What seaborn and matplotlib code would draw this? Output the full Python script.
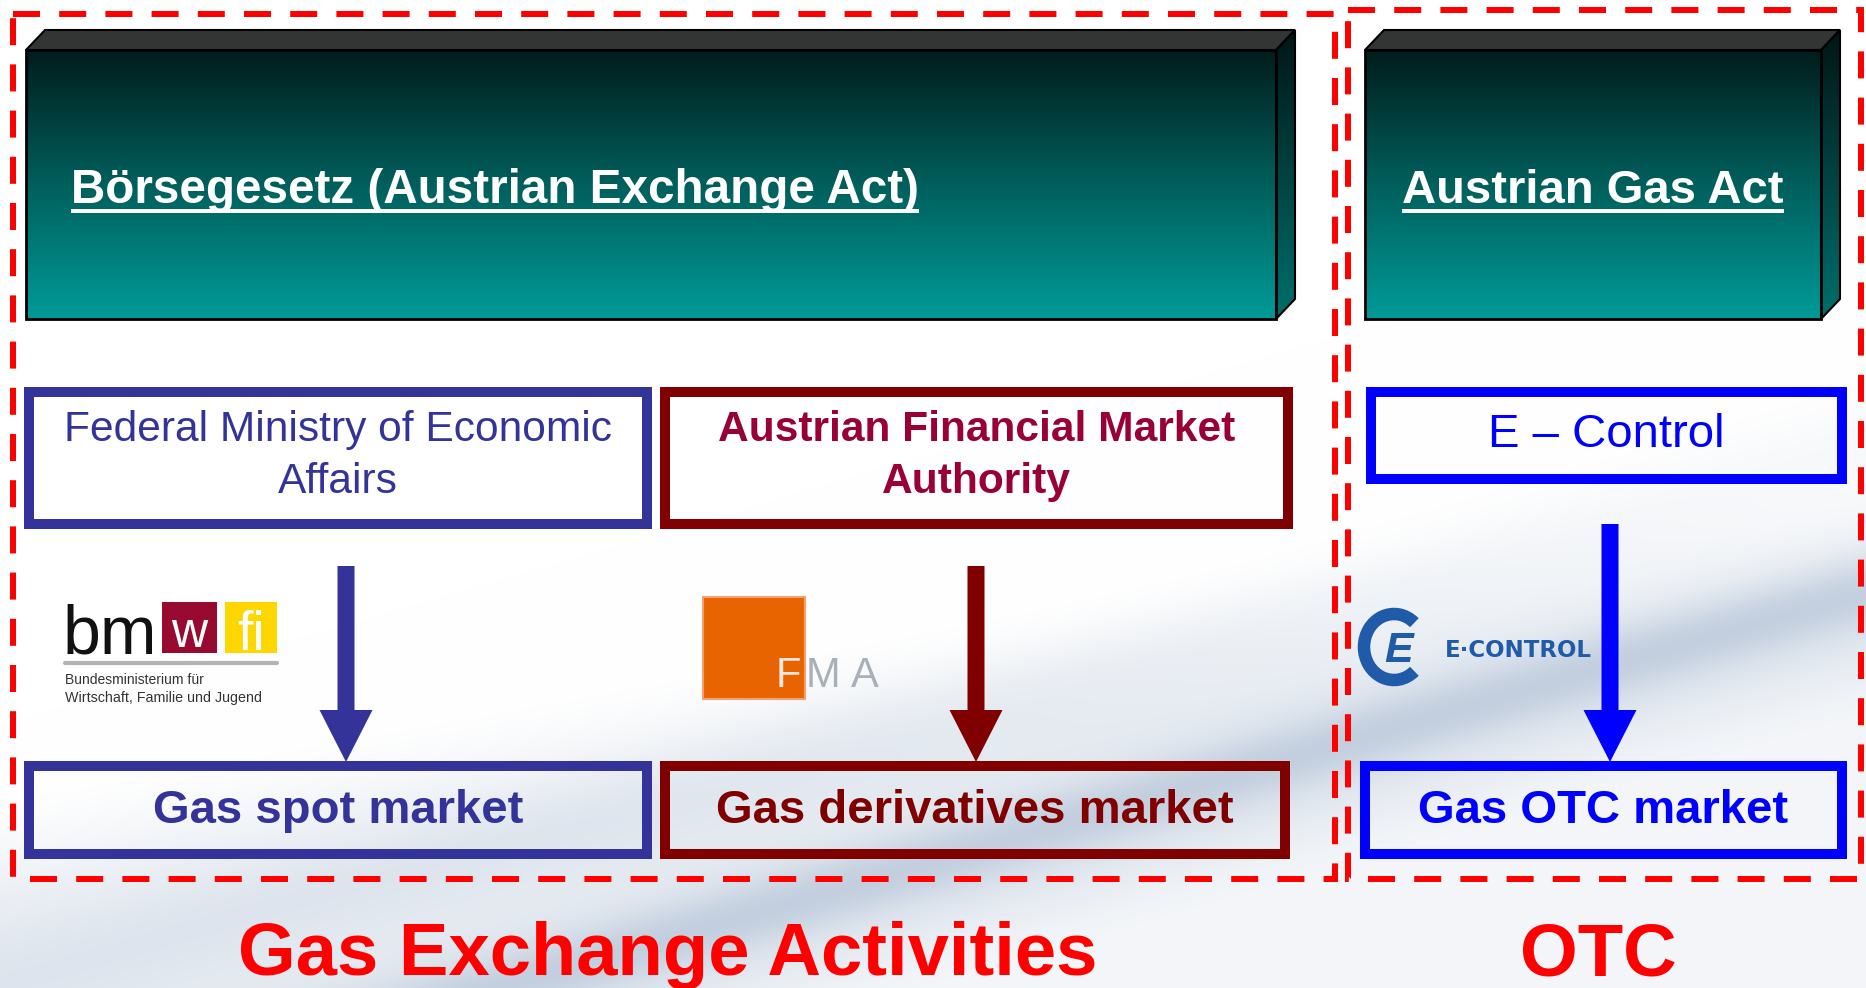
import numpy as np
import matplotlib
matplotlib.use("Agg")
import matplotlib.pyplot as plt
import seaborn as sns
from matplotlib.patches import Rectangle, Polygon, FancyArrow, Arc

# --- content -------------------------------------------------------------
sections = ["Gas Exchange Activities", "OTC"]
acts = ["Börsegesetz (Austrian Exchange Act)", "Austrian Gas Act"]
regulators = ["Federal Ministry of Economic\nAffairs", "Austrian Financial Market\nAuthority", "E – Control"]
markets = ["Gas spot market", "Gas derivatives market", "Gas OTC market"]
box_colors = ["#333399", "#800000", "#0000FF"]
reg_text_colors = ["#333399", "#990033", "#0000FF"]
reg_weights = ["normal", "bold", "normal"]
market_text_colors = ["#333399", "#800000", "#0000FF"]
fma_letters = ["F", "M", "A"]
fma_letter_colors = ["#f2e6e0", "#a8b0b8", "#a8b0b8"]

# --- layout (pixel units, y grows downward) ------------------------------
W, H = 1866, 988
frames = [(13, 14, 1335, 879), (1348, 10, 1861, 879)]
act_boxes = [(26, 50, 1276, 319), (1365, 50, 1821, 319)]
reg_boxes = [(29, 392, 647, 524), (665, 392, 1288, 524), (1371, 392, 1842, 479)]
market_boxes = [(29, 766, 647, 854), (665, 766, 1285, 854), (1365, 766, 1842, 854)]
arrow_x = [346, 976, 1610]
arrow_top = [566, 566, 524]
arrow_tip = 762
fma_x = [776, 806, 851]

sns.set_theme(style="white")
plt.rcParams["font.family"] = ["Liberation Sans", "DejaVu Sans"]

fig = plt.figure(figsize=(W / 100, H / 100), dpi=100)
ax = fig.add_axes([0, 0, 1, 1])
ax.set_xlim(0, W)
ax.set_ylim(H, 0)
ax.axis("off")


def smooth(v):
    v = np.clip(v, 0, 1)
    return v * v * (3 - 2 * v)


# faint background swoosh
yy, xx = np.mgrid[0:H, 0:W]
u1 = yy + 0.18 * xx
u2 = yy + 0.29 * xx
broad = smooth((u1 - 780) / 170) * (1 - 0.55 * smooth((u2 - 1175) / 90))
w = 0.33 * broad + 0.45 * np.exp(-((u2 - 1132) / 38) ** 2) + 0.10 * np.exp(-((u2 - 985) / 45) ** 2)
tint = np.array([0.70, 0.76, 0.84])
bg = 1 - w[..., None] * (1 - tint)
ax.imshow(np.clip(bg, 0, 1), extent=(0, W, H, 0), origin="upper", zorder=0, aspect="auto")

lw_px = 0.72  # points per pixel at dpi 100

# dashed section frames
for (x0, y0, x1, y1) in frames:
    ax.add_patch(Rectangle((x0, y0), x1 - x0, y1 - y0, fill=False, edgecolor="#FF0000",
                           lw=6 * lw_px, linestyle=(0, (4.5, 3.2)), zorder=5))

# 3D act boxes
dx, dy = 19, 20
front_cmap = matplotlib.colors.LinearSegmentedColormap.from_list("front", ["#001c1b", "#005f5c", "#009a98"])
side_cmap = matplotlib.colors.LinearSegmentedColormap.from_list("side", ["#001515", "#006f6c"])
grad = np.linspace(0, 1, 256)[:, None]
for i, (x0, y0, x1, y1) in enumerate(act_boxes):
    ax.imshow(grad, cmap=front_cmap, extent=(x0, x1, y1, y0), origin="upper", aspect="auto", zorder=2)
    ax.add_patch(Rectangle((x0, y0), x1 - x0, y1 - y0, fill=False, edgecolor="black", lw=2, zorder=3))
    top = Polygon([(x0, y0), (x0 + dx, y0 - dy), (x1 + dx, y0 - dy), (x1, y0)], closed=True,
                  facecolor="#333535", edgecolor="black", lw=1.5, zorder=3)
    ax.add_patch(top)
    side = Polygon([(x1, y0), (x1 + dx, y0 - dy), (x1 + dx, y1 - dy), (x1, y1)], closed=True,
                   facecolor="none", edgecolor="black", lw=1.5, zorder=3)
    ax.add_patch(side)
    im = ax.imshow(grad, cmap=side_cmap, extent=(x1, x1 + dx, y1, y0 - dy), origin="upper",
                   aspect="auto", zorder=2)
    im.set_clip_path(side)

act_texts = []
t = ax.text(71, 203, acts[0], color="white", fontsize=34.3, fontweight="bold", ha="left",
            va="baseline", zorder=6)
act_texts.append(t)
t = ax.text((act_boxes[1][0] + act_boxes[1][2]) / 2, 203, acts[1], color="white", fontsize=34,
            fontweight="bold", ha="center", va="baseline", zorder=6)
act_texts.append(t)

# regulator boxes
for i, (x0, y0, x1, y1) in enumerate(reg_boxes):
    ax.add_patch(Rectangle((x0, y0), x1 - x0, y1 - y0, fill=False, edgecolor=box_colors[i],
                           lw=10 * lw_px, joinstyle="miter", zorder=4))
    cx = (x0 + x1) / 2
    lines = regulators[i].split("\n")
    if len(lines) == 2:
        base = [441, 493]
        fs = 30.6
    else:
        base = [447]
        fs = 34
    for line, b in zip(lines, base):
        ax.text(cx, b, line, color=reg_text_colors[i], fontsize=fs, fontweight=reg_weights[i],
                ha="center", va="baseline", zorder=6)

# arrows
for i, x in enumerate(arrow_x):
    ax.add_patch(FancyArrow(x, arrow_top[i], 0, arrow_tip - arrow_top[i], width=17, head_width=53,
                            head_length=52, length_includes_head=True, color=box_colors[i],
                            lw=0, zorder=4))

# market boxes
for i, (x0, y0, x1, y1) in enumerate(market_boxes):
    ax.add_patch(Rectangle((x0, y0), x1 - x0, y1 - y0, fill=False, edgecolor=box_colors[i],
                           lw=10 * lw_px, joinstyle="miter", zorder=4))
    ax.text((x0 + x1) / 2, 823, markets[i], color=market_text_colors[i], fontsize=34,
            fontweight="bold", ha="center", va="baseline", zorder=6)

# section titles
ax.text(668, 975, sections[0], color="#FF0000", fontsize=53.5, fontweight="bold", ha="center",
        va="baseline", zorder=6)
ax.text(1598, 975, sections[1], color="#FF0000", fontsize=53.5, fontweight="bold", ha="center",
        va="baseline", zorder=6)

# bmwfi logo
ax.text(63, 653, "bm", color="#111111", fontsize=49, ha="left", va="baseline", zorder=6)
ax.add_patch(Rectangle((162, 602), 55, 51, facecolor="#990a30", edgecolor="none", zorder=5))
ax.add_patch(Rectangle((225, 602), 52, 51, facecolor="#ffd700", edgecolor="none", zorder=5))
ax.text(189, 647, "w", color="white", fontsize=36, ha="center", va="baseline", zorder=6)
ax.text(251, 650, "fi", color="white", fontsize=40, ha="center", va="baseline", zorder=6)
ax.plot([65, 277], [663, 663], color="#b4b4b4", lw=3, zorder=5)
ax.text(65, 684, "Bundesministerium für", color="#333333", fontsize=10, ha="left", va="baseline", zorder=6)
ax.text(65, 702, "Wirtschaft, Familie und Jugend", color="#333333", fontsize=10.3, ha="left",
        va="baseline", zorder=6)

# FMA logo
ax.add_patch(Rectangle((703, 597), 102, 102, facecolor="#e86400", edgecolor="#f4a070", lw=1.5, zorder=5))
for letter, lx, lc in zip(fma_letters, fma_x, fma_letter_colors):
    ax.text(lx, 687, letter, color=lc, fontsize=30, ha="left", va="baseline", zorder=6)

# E-Control logo
ec = "#1f5ba8"
ax.add_patch(Arc((1394, 647), 60, 66, theta1=50, theta2=310, lw=9, color=ec, zorder=5))
ax.text(1399, 662, "E", color=ec, fontsize=31, fontweight="bold", style="italic", ha="center",
        va="baseline", zorder=6)
ax.text(1445, 657, "E·CONTROL", color=ec, fontsize=16.5, fontweight="bold", family="DejaVu Sans",
        ha="left", va="baseline", zorder=6)

# underline act titles
fig.canvas.draw()
r = fig.canvas.get_renderer()
inv = ax.transData.inverted()
for t in act_texts:
    bb = t.get_window_extent(r)
    xa = inv.transform((bb.x0, 0))[0]
    xb = inv.transform((bb.x1, 0))[0]
    ax.plot([xa, xb], [211, 211], color="white", lw=4 * lw_px, solid_capstyle="butt", zorder=6)

fig.savefig("out.png", dpi=100)
